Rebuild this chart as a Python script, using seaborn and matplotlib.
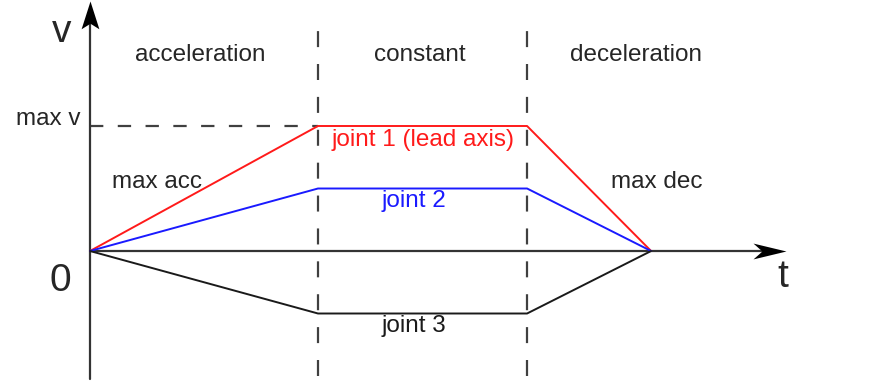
import numpy as np
import pandas as pd
import matplotlib
matplotlib.use("Agg")
import matplotlib.pyplot as plt
from matplotlib.path import Path
import seaborn as sns

# ── Data ──────────────────────────────────────────────────
t_points = [0.0, 1.0, 1.917, 2.461]        # phase boundaries (arb. time units)
v_joint1 = [0.0, 1.0, 1.0, 0.0]            # lead axis
v_joint2 = [0.0, 0.5, 0.5, 0.0]
v_joint3 = [0.0, -0.5, -0.5, 0.0]
joint_names = ["joint 1 (lead axis)", "joint 2", "joint 3"]
phase_names = ["acceleration", "constant", "deceleration"]
max_v = 1.0

RED, BLUE, BLACK, GREY = "#ff1a1a", "#1a1aff", "#1a1a1a", "#333333"

df = pd.DataFrame({
    "t": t_points * 3,
    "v": v_joint1 + v_joint2 + v_joint3,
    "joint": [n for n in joint_names for _ in t_points],
})

# ── Style ─────────────────────────────────────────────────
sns.set_style("white")
plt.rcParams["font.family"] = ["Liberation Sans", "DejaVu Sans"]

fig = plt.figure(figsize=(8.81, 3.81), dpi=100)
ax = fig.add_axes([0, 0, 1, 1])
ax.set_xlim(-0.3947, 3.4693)
ax.set_ylim(-1.04, 2.008)
ax.axis("off")

# phase separators and max-v guide
for tx in t_points[1:3]:
    ax.plot([tx, tx], [-1.0, 1.84], color="#404040", lw=1.6,
            dashes=(7.2, 7.6), zorder=1)
ax.plot([0, t_points[1]], [max_v, max_v], color="#404040", lw=1.6,
        dashes=(6, 6.5), zorder=1)

# axes with stealth arrowheads
ax.plot([0, 3.0], [0, 0], color=GREY, lw=1.6, zorder=2)
ax.plot([0, 0], [-1.02, 1.9], color=GREY, lw=1.6, zorder=2)
codes = [Path.MOVETO, Path.LINETO, Path.LINETO, Path.LINETO, Path.CLOSEPOLY]
head_right = Path([(0, 0), (-1, 0.24), (-0.73, 0), (-1, -0.24), (0, 0)], codes)
head_up = Path([(0, 0), (0.32, -1), (0, -0.8), (-0.32, -1), (0, 0)], codes)
ax.plot([3.0526], [0], marker=head_right, markersize=47.5, color="black",
        markeredgewidth=0, zorder=3)
ax.plot([0], [2.0], marker=head_up, markersize=40,
        color="black", markeredgewidth=0, zorder=3)

# joint velocity profiles
sns.lineplot(data=df, x="t", y="v", hue="joint", ax=ax,
             palette=[RED, BLUE, BLACK], linewidth=1.4,
             legend=False, zorder=4, sort=False)

# ── Labels ────────────────────────────────────────────────
ax.text(-0.123, 1.75, "v", fontsize=28, ha="center", va="center")
ax.text(-0.132, -0.24, "0", fontsize=28, ha="center", va="center")
ax.text(3.04, -0.21, "t", fontsize=28, ha="center", va="center")
for x, name in zip([0.482, 1.447, 2.395], phase_names):
    ax.text(x, 1.568, name, fontsize=17.5, ha="center", va="center")
ax.text(-0.184, 1.056, "max v", fontsize=17.5, ha="center", va="center")
ax.text(0.294, 0.552, "max acc", fontsize=17.5, ha="center", va="center")
ax.text(2.487, 0.552, "max dec", fontsize=17.5, ha="center", va="center")
ax.text(1.46, 0.89, joint_names[0], fontsize=17.5, color=RED,
        ha="center", va="center")
ax.text(1.421, 0.40, joint_names[1], fontsize=17.5, color=BLUE,
        ha="center", va="center")
ax.text(1.421, -0.60, joint_names[2], fontsize=17.5, color=BLACK,
        ha="center", va="center")

fig.savefig("out.png", dpi=100, facecolor="white")
